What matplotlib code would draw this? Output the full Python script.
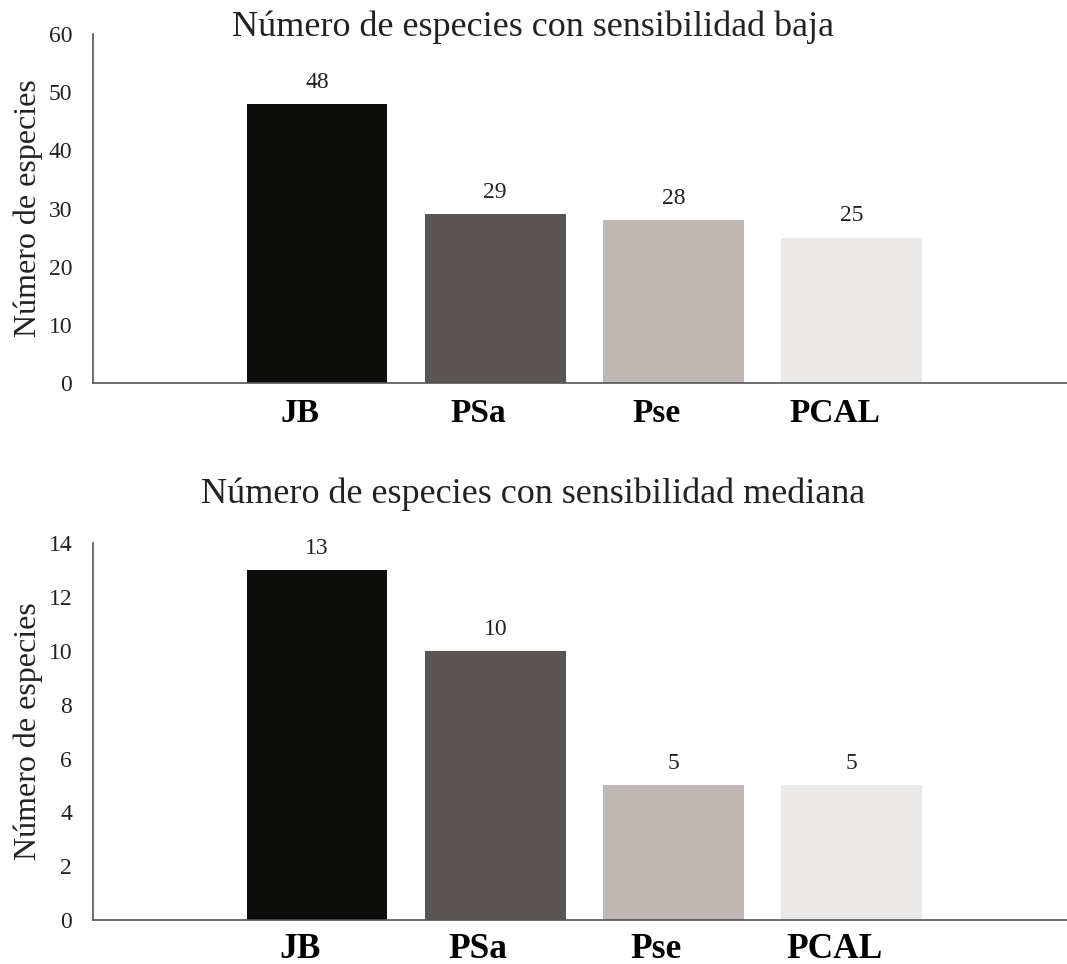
import matplotlib
matplotlib.use("Agg")
import matplotlib.pyplot as plt

categories = ["JB", "PSa", "Pse", "PCAL"]
baja = [48, 29, 28, 25]
mediana = [13, 10, 5, 5]
colors = ["#0d0d0b", "#5a5553", "#bfb8b5", "#ebe8e8"]

plt.rcParams['font.family'] = ['Liberation Serif', 'DejaVu Serif']

fig = plt.figure(figsize=(10.67, 9.64), dpi=100)

def draw(ax, vals, ymax, step, title, title_y, xfs, xpad):
    x = list(range(len(categories)))
    ax.bar(x, vals, width=0.79, color=colors)
    for xi, v in zip(x, vals):
        ax.annotate(str(v), (xi, v), xytext=(0, 8), textcoords='offset points',
                    ha='center', va='bottom', fontsize=17, color='#222222')
    ax.set_xlim(-1.258, 4.21)
    ax.set_ylim(0, ymax)
    ax.set_yticks(range(0, ymax + 1, step))
    # category labels sit slightly left of bar centres in the original
    ax.set_xticks([xi - 0.095 for xi in x])
    ax.set_xticklabels(categories, fontsize=xfs, fontweight='bold')
    ax.tick_params(axis='both', length=0)
    ax.tick_params(axis='y', labelsize=17, pad=15, labelcolor='#222222')
    ax.tick_params(axis='x', pad=xpad)
    for s in ['top', 'right']:
        ax.spines[s].set_visible(False)
    for s in ['left', 'bottom']:
        ax.spines[s].set_color('#555555')
        ax.spines[s].set_linewidth(1.2)
    ax.set_ylabel("Número de especies", fontsize=23, labelpad=4, color='#222222')
    fig.text(0.5, title_y, title, ha='center', va='center', fontsize=26, color='#222222')

ax1 = fig.add_axes([0.0872, 0.6027, 0.9128, 0.362])
draw(ax1, baja, 60, 10, "Número de especies con sensibilidad baja", 1 - 27 / 964, 24, 11)
ax2 = fig.add_axes([0.0872, 0.0456, 0.9128, 0.391])
draw(ax2, mediana, 14, 2, "Número de especies con sensibilidad mediana", 1 - 494 / 964, 25.5, 9)

fig.savefig("out.png", dpi=100)
